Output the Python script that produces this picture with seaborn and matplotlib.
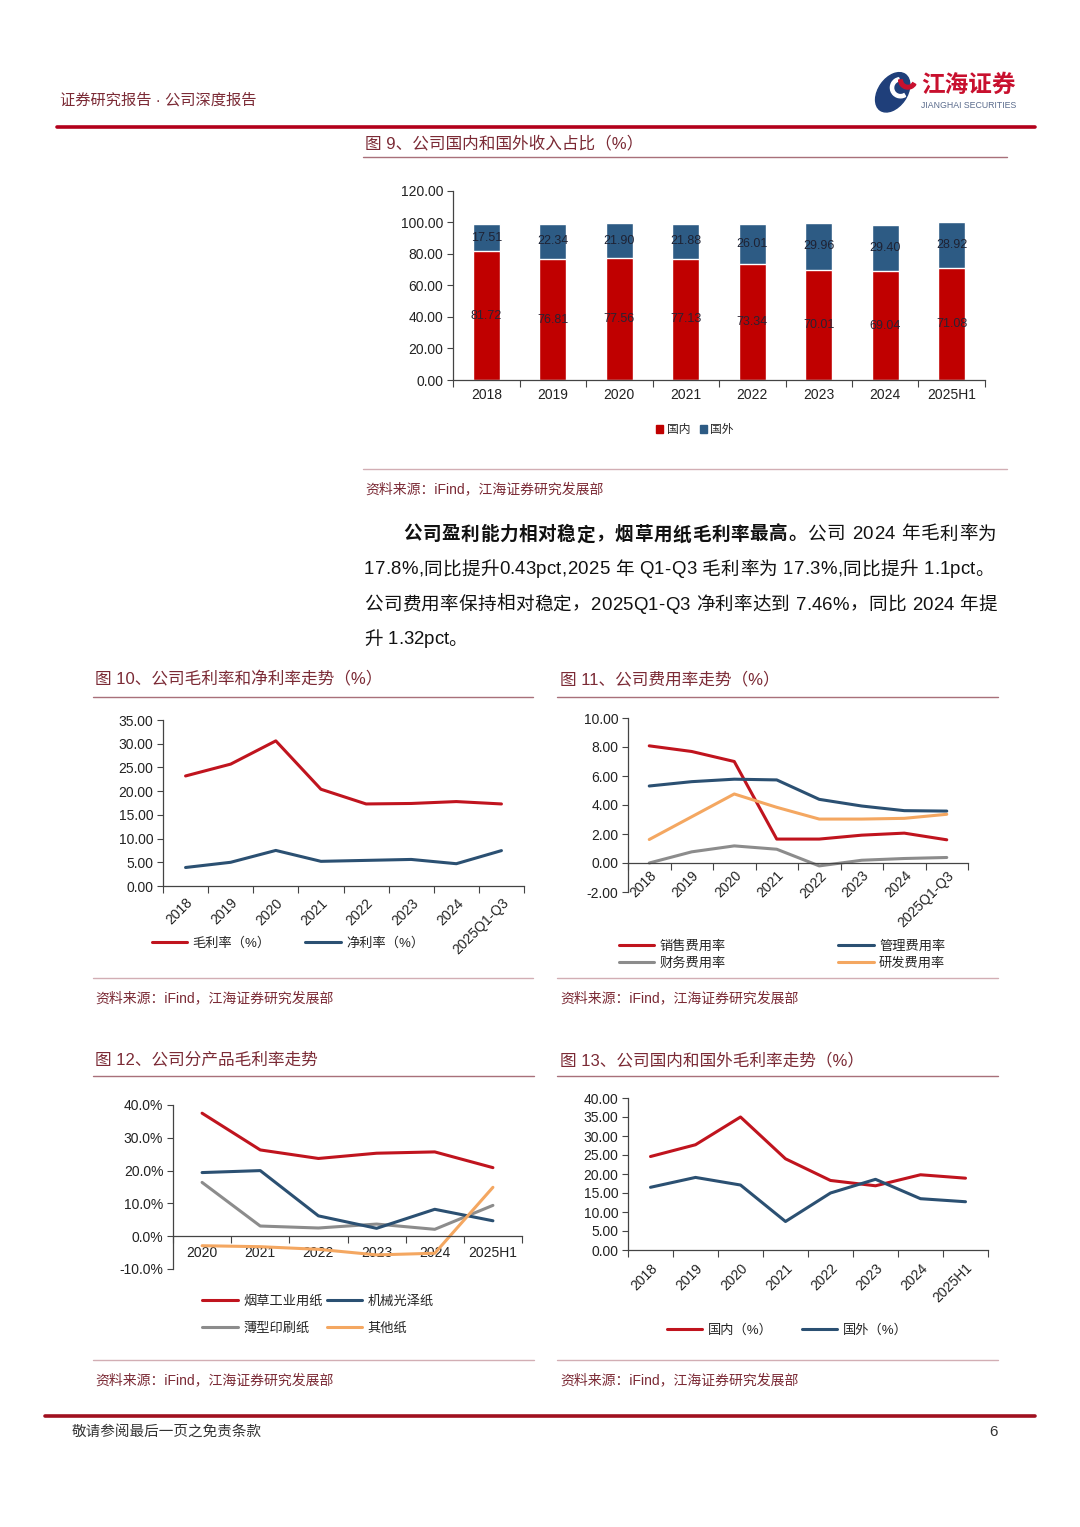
import numpy as np
import pandas as pd
import matplotlib.pyplot as plt
import matplotlib.ticker as mticker
from matplotlib.lines import Line2D
from matplotlib.patches import Patch, Ellipse, Wedge
import seaborn as sns

sns.set_theme(style="white")
plt.rcParams["font.family"] = ["Liberation Sans", "Noto Sans CJK SC"]
plt.rcParams["axes.unicode_minus"] = False

# ── data ─────────────────────────────────────────────────────────────────────
years9 = ["2018", "2019", "2020", "2021", "2022", "2023", "2024", "2025H1"]
domestic_share = [81.72, 76.81, 77.56, 77.13, 73.34, 70.01, 69.04, 71.08]
foreign_share = [17.51, 22.34, 21.90, 21.88, 26.01, 29.96, 29.40, 28.92]

years10 = ["2018", "2019", "2020", "2021", "2022", "2023", "2024", "2025Q1-Q3"]
gross_margin = [23.2, 25.7, 30.6, 20.4, 17.3, 17.4, 17.8, 17.3]
net_margin = [3.9, 5.0, 7.5, 5.2, 5.4, 5.6, 4.7, 7.46]

years11 = years10
sales_rate = [8.08, 7.69, 7.00, 1.65, 1.65, 1.92, 2.06, 1.60]
admin_rate = [5.31, 5.61, 5.78, 5.73, 4.39, 3.93, 3.61, 3.58]
fin_rate = [0.00, 0.77, 1.18, 0.95, -0.20, 0.19, 0.31, 0.38]
rd_rate = [1.62, 3.19, 4.76, 3.84, 3.03, 3.03, 3.08, 3.36]

years12 = ["2020", "2021", "2022", "2023", "2024", "2025H1"]
tobacco_paper = [37.5, 26.3, 23.7, 25.3, 25.7, 20.9]
glossy_paper = [19.4, 20.0, 6.2, 2.4, 8.2, 4.7]
thin_paper = [16.4, 3.1, 2.5, 3.7, 2.1, 9.4]
other_paper = [-2.9, -3.2, -4.0, -5.7, -5.2, 14.9]

years13 = years9
domestic_gm = [24.6, 27.7, 35.0, 24.0, 18.3, 16.9, 19.8, 18.9]
foreign_gm = [16.5, 19.1, 17.1, 7.5, 15.0, 18.6, 13.5, 12.7]

# ── colours ──────────────────────────────────────────────────────────────────
RED_BAR = "#C00000"
BLUE_BAR = "#2D5B84"
RED = "#C0141E"
BLUE = "#2B5072"
GRAY = "#8C8C8C"
ORANGE = "#F4A761"
MAROON = "#7B2A35"
RULE = "#A8707A"
SRC_RULE = "#D2AEB4"
AXIS = "#444444"

W, H = 1080, 1527
fig = plt.figure(figsize=(W / 100, H / 100), dpi=100)


def fx(x):
    return x / W


def fy(y):
    return 1 - y / H


def box(x0, y0, x1, y1):
    return [fx(x0), fy(y1), (x1 - x0) / W, (y1 - y0) / H]


def hline(x0, x1, y, color, lw):
    fig.add_artist(Line2D([fx(x0), fx(x1)], [fy(y), fy(y)],
                          transform=fig.transFigure, color=color, lw=lw))


def put(x, y, s, **kw):
    kw.setdefault("va", "center")
    kw.setdefault("ha", "left")
    return fig.text(fx(x), fy(y), s, **kw)


def frame(ax, cats, fmt):
    n = len(cats)
    sns.despine(ax=ax)
    ax.grid(False)
    ax.set_xlabel("")
    ax.set_ylabel("")
    ax.set_xlim(-0.5, n - 0.5)
    ax.set_xticks(np.arange(n))
    ax.set_xticks(np.arange(n + 1) - 0.5, minor=True)
    ax.tick_params(axis="x", which="major", length=0, labelsize=10, colors="#222")
    ax.tick_params(axis="x", which="minor", bottom=True, length=5, width=0.8,
                   direction="out", color=AXIS)
    ax.tick_params(axis="y", left=True, length=4, width=0.8, direction="out",
                   color=AXIS, labelsize=10, pad=3, labelcolor="#222")
    for s in ["left", "bottom"]:
        ax.spines[s].set_color(AXIS)
        ax.spines[s].set_linewidth(0.9)
    ax.yaxis.set_major_formatter(mticker.FormatStrFormatter(fmt))


def lines(ax, cats, series, colors, labels):
    xs = np.arange(len(cats))
    for vals, c, lab in zip(series, colors, labels):
        sns.lineplot(x=xs, y=vals, ax=ax, color=c, linewidth=2.2,
                     label=lab, legend=False)


def leg(ax, cx, cy, ncol, **kw):
    h = [l for l in ax.get_lines() if not l.get_label().startswith("_")]
    ax.legend(handles=h, labels=[l.get_label() for l in h], ncol=ncol,
              loc="center", bbox_to_anchor=(fx(cx), fy(cy)),
              bbox_transform=fig.transFigure, frameon=False, fontsize=9.5,
              handlelength=2.7, handletextpad=0.4, borderpad=0, **kw)


# ── page header ──────────────────────────────────────────────────────────────
put(60, 100, "证券研究报告 · 公司深度报告", fontsize=11, color=MAROON)
hline(57, 1035, 127, "#B3001B", 2.6)
lax = fig.add_axes(box(872, 66, 918, 114))
lax.set_xlim(0, 1)
lax.set_ylim(0, 1)
lax.set_aspect("equal")
lax.axis("off")
lax.add_patch(Ellipse((0.45, 0.45), 0.62, 0.95, angle=-35, color="#1F3F7A"))
lax.add_patch(Wedge((0.62, 0.55), 0.22, 100, 300, width=0.07, color="white"))
lax.add_patch(Wedge((0.78, 0.72), 0.2, 180, 330, width=0.08, color="#C8102E"))
put(921, 85, "江海证券", fontsize=17, fontweight="bold", color="#C8102E")
put(921, 105, "JIANGHAI SECURITIES", fontsize=6.3, color="#5A6B8C")

# ── figure 9: stacked bars ───────────────────────────────────────────────────
put(365, 143, "图 9、公司国内和国外收入占比（%）", fontsize=12, color=MAROON)
hline(363, 1007, 157, RULE, 1.0)

ax9 = fig.add_axes(box(453, 191, 985, 380))
total = [d + f for d, f in zip(domestic_share, foreign_share)]
sns.barplot(x=years9, y=total, color=BLUE_BAR, saturation=1, width=0.4, ax=ax9)
sns.barplot(x=years9, y=domestic_share, color=RED_BAR, saturation=1, width=0.4, ax=ax9)
ax9.set_ylim(0, 120)
ax9.set_yticks(np.arange(0, 121, 20))
frame(ax9, years9, "%.2f")
ax9.tick_params(axis="x", which="major", pad=6)
for i, (d, f) in enumerate(zip(domestic_share, foreign_share)):
    ax9.text(i, d / 2, f"{d:.2f}", ha="center", va="center", fontsize=9, color="#2A2233")
    ax9.text(i, d + f / 2, f"{f:.2f}", ha="center", va="center", fontsize=9, color="#1E2233")
ax9.legend(handles=[Patch(color=RED_BAR), Patch(color=BLUE_BAR)], labels=["国内", "国外"],
           ncol=2, loc="center", bbox_to_anchor=(fx(695), fy(430)),
           bbox_transform=fig.transFigure, frameon=False, fontsize=8.5,
           handlelength=0.6, handleheight=0.6, handletextpad=0.3, columnspacing=0.8)

hline(363, 1007, 469, SRC_RULE, 1.0)
put(365, 489, "资料来源：iFind，江海证券研究发展部", fontsize=10, color=MAROON)

# ── body paragraph (justified line by line) ─────────────────────────────────
renderer = fig.canvas.get_renderer()
BODY_FS = 13.4


def rich(x, y, parts, x_end=None):
    chars = [(c, wt) for txt, wt in parts for c in txt]
    objs, widths = [], []
    for c, wt in chars:
        t = put(x, y, c, fontsize=BODY_FS, fontweight=wt, color="#111111")
        w = t.get_window_extent(renderer=renderer).width
        if c == " ":
            w = BODY_FS * 1.389 * 0.28
        objs.append(t)
        widths.append(w)
    gap = 0.0
    if x_end is not None and len(chars) > 1:
        gap = (x_end - x - sum(widths)) / (len(chars) - 1)
    cur = x
    for t, w in zip(objs, widths):
        t.set_x(fx(cur))
        cur += w + gap


rich(403, 535, [("公司盈利能力相对稳定，烟草用纸毛利率最高。", "bold"),
                ("公司 2024 年毛利率为", "normal")], 997)
rich(364, 570, [("17.8%,同比提升0.43pct,2025 年 Q1-Q3 毛利率为 17.3%,同比提升 1.1pct。", "normal")], 994)
rich(364, 605, [("公司费用率保持相对稳定，2025Q1-Q3 净利率达到 7.46%，同比 2024 年提", "normal")], 997)
rich(364, 640, [("升 1.32pct。", "normal")])

# ── figure 10 ────────────────────────────────────────────────────────────────
put(95, 679, "图 10、公司毛利率和净利率走势（%）", fontsize=12, color=MAROON)
hline(93, 533, 697, RULE, 1.0)
ax10 = fig.add_axes(box(163, 720, 524, 886))
lines(ax10, years10, [gross_margin, net_margin], [RED, BLUE], ["毛利率（%）", "净利率（%）"])
ax10.set_ylim(0, 35)
ax10.set_yticks(np.arange(0, 35.1, 5))
frame(ax10, years10, "%.2f")
ax10.set_xticklabels(years10, rotation=45, ha="right", rotation_mode="anchor")
ax10.tick_params(axis="x", which="major", pad=7)
leg(ax10, 288, 943, 2, columnspacing=2.6)
hline(93, 533, 978, SRC_RULE, 1.0)
put(95, 998, "资料来源：iFind，江海证券研究发展部", fontsize=10, color=MAROON)

# ── figure 11 ────────────────────────────────────────────────────────────────
put(560, 679, "图 11、公司费用率走势（%）", fontsize=12, color=MAROON)
hline(557, 998, 697, RULE, 1.0)
ax11 = fig.add_axes(box(628, 718, 968, 892))
lines(ax11, years11, [sales_rate, fin_rate, admin_rate, rd_rate],
      [RED, GRAY, BLUE, ORANGE], ["销售费用率", "财务费用率", "管理费用率", "研发费用率"])
ax11.set_ylim(-2, 10)
ax11.set_yticks(np.arange(-2, 10.1, 2))
frame(ax11, years11, "%.2f")
ax11.spines["bottom"].set_position(("data", 0))
ax11.set_xticklabels(years11, rotation=45, ha="right", rotation_mode="anchor")
ax11.tick_params(axis="x", which="major", pad=4)
leg(ax11, 782, 955, 2, columnspacing=8.5, labelspacing=0.35)
hline(557, 998, 978, SRC_RULE, 1.0)
put(560, 998, "资料来源：iFind，江海证券研究发展部", fontsize=10, color=MAROON)

# ── figure 12 ────────────────────────────────────────────────────────────────
put(95, 1060, "图 12、公司分产品毛利率走势", fontsize=12, color=MAROON)
hline(93, 534, 1076, RULE, 1.0)
ax12 = fig.add_axes(box(173, 1105, 522, 1269))
lines(ax12, years12, [tobacco_paper, thin_paper, glossy_paper, other_paper],
      [RED, GRAY, BLUE, ORANGE], ["烟草工业用纸", "薄型印刷纸", "机械光泽纸", "其他纸"])
ax12.set_ylim(-10, 40)
ax12.set_yticks(np.arange(-10, 40.1, 10))
frame(ax12, years12, "%.1f%%")
ax12.spines["bottom"].set_position(("data", 0))
ax12.set_xticklabels(years12)
ax12.tick_params(axis="x", which="major", pad=7)
leg(ax12, 318, 1315, 2, columnspacing=0.3, labelspacing=1.1)
hline(93, 534, 1360, SRC_RULE, 1.0)
put(95, 1380, "资料来源：iFind，江海证券研究发展部", fontsize=10, color=MAROON)

# ── figure 13 ────────────────────────────────────────────────────────────────
put(560, 1060, "图 13、公司国内和国外毛利率走势（%）", fontsize=12, color=MAROON)
hline(557, 998, 1076, RULE, 1.0)
ax13 = fig.add_axes(box(628, 1098, 988, 1250))
lines(ax13, years13, [domestic_gm, foreign_gm], [RED, BLUE], ["国内（%）", "国外（%）"])
ax13.set_ylim(0, 40)
ax13.set_yticks(np.arange(0, 40.1, 5))
frame(ax13, years13, "%.2f")
ax13.set_xticklabels(years13, rotation=45, ha="right", rotation_mode="anchor")
ax13.tick_params(axis="x", which="major", pad=8)
leg(ax13, 787, 1330, 2, columnspacing=2.2)
hline(557, 998, 1360, SRC_RULE, 1.0)
put(560, 1380, "资料来源：iFind，江海证券研究发展部", fontsize=10, color=MAROON)

# ── footer ───────────────────────────────────────────────────────────────────
hline(45, 1035, 1416, "#A0101F", 2.6)
put(72, 1432, "敬请参阅最后一页之免责条款", fontsize=10.5, color="#333333")
put(998, 1432, "6", fontsize=11, color="#333333", ha="right")

fig.savefig("out.png", dpi=100)
